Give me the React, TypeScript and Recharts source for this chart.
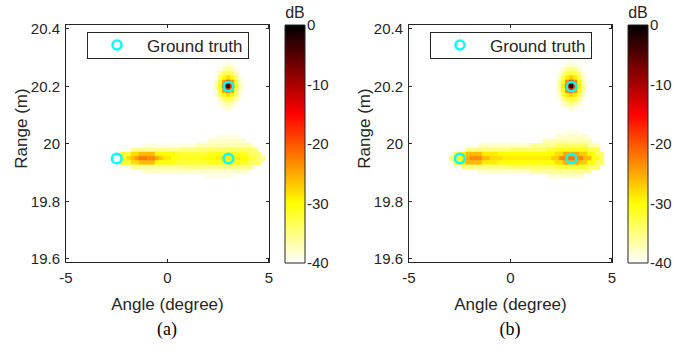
import { ScatterChart, Scatter, BarChart, Bar, XAxis, YAxis, ReferenceArea, Legend } from 'recharts'

const FONT = '"Liberation Sans", Arial, Helvetica, sans-serif'
const INK = '#262626'

const angleTicks = [-5, 0, 5]
const rangeTicks = [19.6, 19.8, 20, 20.2, 20.4]
const dbTicks = [-40, -30, -20, -10, 0]
const truth = [{ x: -2.5, y: 19.95 }, { x: 3, y: 19.95 }, { x: 3, y: 20.2 }]
const colorbar = [{ name: 'dB', span: [-40, 0] }]

const X_DOM = [-5, 5]
const Y_DOM = [19.59, 20.414]

// flipped 'hot' colour map, dB -> colour
const hotStops = [
  { db: 0, color: [0, 0, 0] },
  { db: -15, color: [255, 0, 0] },
  { db: -30, color: [255, 255, 0] },
  { db: -40, color: [255, 255, 255] },
]

// blob around the target at (3 deg, 20.2 m): rows of 0.015 m, columns of 0.2 deg
const blobRows = [20.275, 20.26, 20.245, 20.23, 20.215, 20.2, 20.185, 20.17, 20.155, 20.14, 20.125]
const blobCols = [2.4, 2.6, 2.8, 3.0, 3.2, 3.4, 3.6]
const blobA = [
  [-40, -40, -39, -38, -39, -40, -40],
  [-40, -39, -37, -36, -37, -39, -40],
  [-40, -37, -34, -33, -34, -37, -40],
  [-39, -34, -30, -28, -30, -34, -39],
  [-38, -32, -24, -18, -24, -32, -38],
  [-37, -30, -18, -3, -18, -30, -37],
  [-38, -32, -24, -18, -24, -32, -38],
  [-39, -34, -30, -28, -30, -34, -39],
  [-40, -37, -34, -33, -34, -37, -40],
  [-40, -39, -37, -36, -37, -39, -40],
  [-40, -40, -39, -38, -39, -40, -40],
]
const blobB = [
  [-40, -40, -39, -38, -39, -40, -40],
  [-40, -38, -36, -35, -36, -38, -40],
  [-39, -36, -33, -32, -33, -36, -39],
  [-38, -33, -29, -27, -29, -33, -38],
  [-37, -31, -23, -17, -23, -31, -37],
  [-36, -29, -17, -2, -17, -29, -36],
  [-37, -31, -23, -17, -23, -31, -37],
  [-38, -33, -29, -27, -29, -33, -38],
  [-39, -36, -33, -32, -33, -36, -39],
  [-40, -38, -36, -35, -36, -38, -40],
  [-40, -40, -39, -38, -39, -40, -40],
]

// streak along 19.95 m: per row [angle from, angle to, dB]
const streakA = [
  { r: 20.025, segs: [[2.4, 3.6, -39]] },
  { r: 20.01, segs: [[2.0, 3.8, -38]] },
  { r: 19.995, segs: [[-1.2, 1.4, -39], [1.4, 4.2, -37]] },
  { r: 19.98, segs: [[-1.8, 0.6, -36], [0.6, 2.0, -35], [2.0, 4.4, -34]] },
  { r: 19.965, segs: [[-2.3, -1.8, -32], [-1.8, -1.4, -28], [-1.4, -0.6, -26], [-0.6, 0.4, -30], [0.4, 2.0, -32], [2.0, 4.0, -31], [4.0, 4.6, -34]] },
  { r: 19.95, segs: [[-2.3, -2.0, -31], [-2.0, -1.8, -28], [-1.8, -1.6, -26], [-1.6, -1.4, -24], [-1.4, -1.0, -22], [-1.0, -0.6, -23], [-0.6, -0.4, -25], [-0.4, -0.2, -27], [-0.2, 0.2, -29], [0.2, 0.6, -30], [0.6, 1.8, -31], [1.8, 2.4, -30], [2.4, 3.6, -29], [3.6, 4.0, -30], [4.0, 4.4, -32], [4.4, 4.8, -35]] },
  { r: 19.935, segs: [[-2.3, -1.8, -32], [-1.8, -1.4, -28], [-1.4, -0.6, -26], [-0.6, 0.4, -30], [0.4, 2.0, -32], [2.0, 4.0, -31], [4.0, 4.6, -34]] },
  { r: 19.92, segs: [[-1.8, 0.6, -36], [0.6, 4.2, -35]] },
  { r: 19.905, segs: [[-1.2, 4.0, -38]] },
  { r: 19.89, segs: [[1.8, 3.4, -39]] },
]
const streakB = [
  { r: 20.04, segs: [[2.6, 3.4, -39]] },
  { r: 20.025, segs: [[2.2, 3.8, -38]] },
  { r: 20.01, segs: [[1.6, 4.0, -37]] },
  { r: 19.995, segs: [[-1.6, 1.0, -38], [1.0, 2.2, -36], [2.2, 3.8, -34], [3.8, 4.4, -37]] },
  { r: 19.98, segs: [[-2.2, 0.0, -35], [0.0, 1.8, -34], [1.8, 2.4, -32], [2.4, 3.8, -31], [3.8, 4.4, -33]] },
  { r: 19.965, segs: [[-2.8, -2.4, -33], [-2.4, -2.2, -30], [-2.2, -1.4, -26], [-1.4, -0.6, -29], [-0.6, 2.2, -30], [2.2, 2.6, -28], [2.6, 3.4, -25], [3.4, 3.8, -27], [3.8, 4.2, -30], [4.2, 4.6, -34]] },
  { r: 19.95, segs: [[-3.0, -2.6, -34], [-2.6, -2.2, -30], [-2.2, -2.0, -25], [-2.0, -1.4, -23], [-1.4, -1.0, -26], [-1.0, -0.4, -28], [-0.4, 2.0, -29], [2.0, 2.4, -27], [2.4, 2.8, -23], [2.8, 3.2, -22], [3.2, 3.6, -23], [3.6, 4.0, -26], [4.0, 4.4, -30], [4.4, 4.6, -34]] },
  { r: 19.935, segs: [[-2.8, -2.4, -33], [-2.4, -2.2, -30], [-2.2, -1.4, -26], [-1.4, -0.6, -29], [-0.6, 2.2, -30], [2.2, 2.6, -28], [2.6, 3.4, -25], [3.4, 3.8, -27], [3.8, 4.2, -30], [4.2, 4.6, -34]] },
  { r: 19.92, segs: [[-2.4, 0.0, -35], [0.0, 2.2, -34], [2.2, 3.8, -32], [3.8, 4.4, -34]] },
  { r: 19.905, segs: [[-1.6, 1.0, -38], [1.0, 4.0, -36]] },
  { r: 19.89, segs: [[1.8, 3.6, -38]] },
]

const ROW_H = 0.015
const COL_W = 0.2

// plot box inside each panel (px)
const BOX = { left: 66, top: 25, width: 203, height: 237 }

function hotColor(db: number) {
  const v = Math.max(-40, Math.min(0, db))
  for (let i = 0; i < hotStops.length - 1; i++) {
    const a = hotStops[i], b = hotStops[i + 1]
    if (v <= a.db && v >= b.db) {
      const t = (a.db - v) / (a.db - b.db)
      const c = a.color.map((ch, k) => Math.round(ch + (b.color[k] - ch) * t))
      return `rgb(${c[0]},${c[1]},${c[2]})`
    }
  }
  return '#fff'
}

type Cell = { x1: number; x2: number; y1: number; y2: number; db: number }

function buildCells(blob: number[][], streak: { r: number; segs: number[][] }[]): Cell[] {
  const out: Cell[] = []
  blob.forEach((row, i) => row.forEach((db, j) => {
    out.push({ x1: blobCols[j] - COL_W / 2, x2: blobCols[j] + COL_W / 2, y1: blobRows[i] - ROW_H / 2, y2: blobRows[i] + ROW_H / 2, db })
  }))
  streak.forEach(row => row.segs.forEach(([a0, a1, db]) => {
    out.push({ x1: a0, x2: a1, y1: row.r - ROW_H / 2, y2: row.r + ROW_H / 2, db })
  }))
  return out.filter(c => c.db > -40)
}

const cellsA = buildCells(blobA, streakA)
const cellsB = buildCells(blobB, streakB)

const ring = (p: any) => (
  <circle cx={p.cx} cy={p.cy} r={4.8} fill="none" stroke="#00ffff" strokeWidth={2.5} />
)

const tickStyle = { fill: INK, fontSize: 15, fontFamily: FONT }

function LegendBox() {
  return (
    <div style={{ width: 160, height: 25, border: `1px solid ${INK}`, background: '#fff', position: 'relative', fontFamily: FONT, fontSize: 17, color: INK }}>
      <svg width={12} height={12} style={{ position: 'absolute', left: 23, top: 6 }}>
        <circle cx={6} cy={6} r={4.5} fill="none" stroke="#00ffff" strokeWidth={2.5} />
      </svg>
      <span style={{ position: 'absolute', left: 59, top: 3.5, lineHeight: '20px', whiteSpace: 'nowrap' }}>Ground truth</span>
    </div>
  )
}

// box outline with inward ticks, drawn over the plot
function Frame({ left }: { left: number }) {
  const tx = (t: number) => BOX.width * (t - X_DOM[0]) / (X_DOM[1] - X_DOM[0])
  const ty = (t: number) => BOX.height * (Y_DOM[1] - t) / (Y_DOM[1] - Y_DOM[0])
  const tick = { position: 'absolute' as const, background: INK }
  return (
    <div style={{ position: 'absolute', zIndex: 5, left: left + BOX.left - 1, top: BOX.top - 1, width: BOX.width + 2, height: BOX.height + 2, border: `1px solid ${INK}`, boxSizing: 'border-box', pointerEvents: 'none' }}>
      {angleTicks.map(t => <div key={`b${t}`} style={{ ...tick, left: tx(t) - 1, bottom: 0, width: 1, height: 3 }} />)}
      {angleTicks.map(t => <div key={`t${t}`} style={{ ...tick, left: tx(t) - 1, top: 0, width: 1, height: 3 }} />)}
      {rangeTicks.map(t => <div key={`l${t}`} style={{ ...tick, top: ty(t) - 1, left: 0, width: 3, height: 1 }} />)}
      {rangeTicks.map(t => <div key={`r${t}`} style={{ ...tick, top: ty(t) - 1, right: 0, width: 3, height: 1 }} />)}
    </div>
  )
}

function Panel({ left, cells, caption }: { left: number; cells: Cell[]; caption: string }) {
  return (
    <>
      <div style={{ position: 'absolute', left, top: 0 }}>
        <ScatterChart width={340} height={315} margin={{ top: 25, right: 71, bottom: 5, left: 16 }}>
          <XAxis type="number" dataKey="x" domain={X_DOM} ticks={angleTicks} allowDataOverflow height={48}
            axisLine={false} tickLine={false} tickSize={0} tickMargin={10} tick={tickStyle}
            label={{ value: 'Angle (degree)', position: 'insideBottom', offset: 0, fill: INK, fontSize: 17, fontFamily: FONT }} />
          <YAxis type="number" dataKey="y" domain={Y_DOM} ticks={rangeTicks} allowDataOverflow width={50}
            axisLine={false} tickLine={false} tickSize={0} tickMargin={6} tick={tickStyle}
            label={{ value: 'Range (m)', angle: -90, position: 'center', dx: -20, dy: -15, fill: INK, fontSize: 17, fontFamily: FONT }} />
          {cells.map((c, i) => (
            <ReferenceArea key={i} x1={c.x1} x2={c.x2} y1={c.y1} y2={c.y2}
              fill={hotColor(c.db)} fillOpacity={1} stroke={hotColor(c.db)} strokeWidth={0.6} />
          ))}
          <Scatter name="Ground truth" data={truth} shape={ring} isAnimationActive={false} />
          <Legend layout="vertical" align="center" verticalAlign="middle"
            wrapperStyle={{ left: 87, top: 32, width: 162, height: 27 }} content={() => <LegendBox />} />
        </ScatterChart>
      </div>
      <Frame left={left} />

      {/* colour bar */}
      <div style={{ position: 'absolute', left: left + 269, top: 0 }}>
        <BarChart width={70} height={280} data={colorbar} barCategoryGap={0} margin={{ top: 25, right: 0, bottom: 17, left: 16 }}>
          <XAxis dataKey="name" hide />
          <YAxis orientation="right" type="number" domain={[-40, 0]} ticks={dbTicks} width={34}
            axisLine={false} tickLine={false} tickSize={0} tickMargin={2} tick={tickStyle}
            label={{ value: 'dB', position: 'top', offset: 7, dx: -27, fill: INK, fontSize: 16, fontFamily: FONT }} />
          <Bar dataKey="span" fill="url(#hotMap)" stroke={INK} strokeWidth={1} isAnimationActive={false} />
        </BarChart>
      </div>

      <div style={{ position: 'absolute', left: left + 117, top: 318, width: 100, textAlign: 'center', fontFamily: '"Liberation Serif", "Times New Roman", serif', fontSize: 18, lineHeight: '22px', color: '#000' }}>
        {caption}
      </div>
    </>
  )
}

export default function App() {
  return (
    <div style={{ position: 'absolute', left: 0, top: 0, width: 673, height: 350, background: '#fff', overflow: 'hidden' }}>
      {/* shared gradient for both colour bars */}
      <svg width={0} height={0} style={{ position: 'absolute', left: 0, top: 0 }}>
        <defs>
          <linearGradient id="hotMap" x1="0" y1="0" x2="0" y2="1">
            {hotStops.map(s => (
              <stop key={s.db} offset={`${(-s.db / 40) * 100}%`} stopColor={`rgb(${s.color.join(',')})`} />
            ))}
          </linearGradient>
        </defs>
      </svg>
      <Panel left={0} cells={cellsA} caption="(a)" />
      <Panel left={343} cells={cellsB} caption="(b)" />
    </div>
  )
}
